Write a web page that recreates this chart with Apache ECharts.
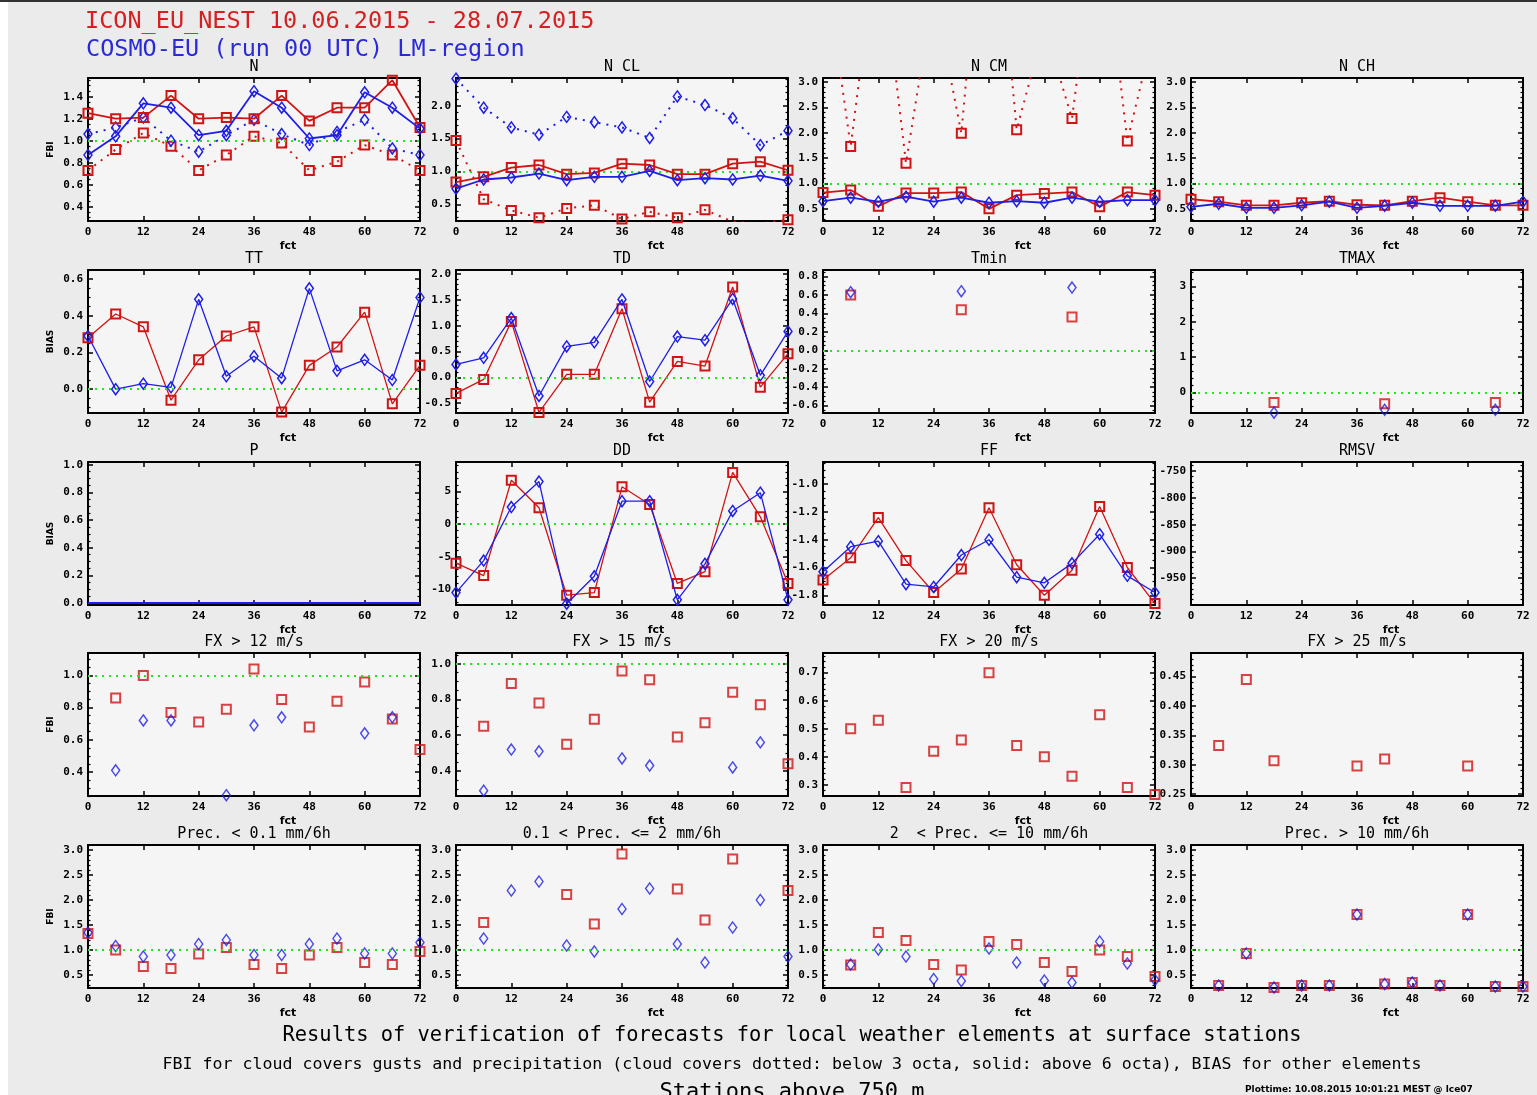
<!DOCTYPE html>
<html>
<head>
<meta charset="utf-8">
<title>Verification of local weather elements</title>
<script src="https://cdn.jsdelivr.net/npm/echarts@6/dist/echarts.min.js"></script>
<style>
  html, body { margin: 0; padding: 0; background: #ebebeb; }
  #chart { width: 1537px; height: 1095px; }
</style>
</head>
<body>
<div id="chart"></div>
<script>
// Forecast times (hours)
const fct = [0, 6, 12, 18, 24, 30, 36, 42, 48, 54, 60, 66, 72];

// Cloud cover FBI (red: ICON_EU_NEST, blue: COSMO-EU; solid above 6 octa, dotted below 3 octa)
const nIconSolid    = [1.25, 1.20, 1.21, 1.41, 1.20, 1.21, 1.20, 1.41, 1.18, 1.30, 1.30, 1.55, 1.12];
const nCosmoSolid   = [0.87, 1.04, 1.34, 1.30, 1.05, 1.09, 1.45, 1.30, 1.02, 1.05, 1.44, 1.30, 1.11];
const nIconDotted   = [0.73, 0.92, 1.07, 0.95, 0.73, 0.87, 1.04, 0.98, 0.73, 0.81, 0.96, 0.87, 0.73];
const nCosmoDotted  = [1.06, 1.12, 1.21, 1.00, 0.90, 1.05, 1.19, 1.06, 0.96, 1.08, 1.19, 0.93, 0.87];

const nclIconSolid   = [0.84, 0.92, 1.06, 1.10, 0.96, 0.98, 1.12, 1.10, 0.96, 0.96, 1.12, 1.15, 1.02];
const nclCosmoSolid  = [0.74, 0.88, 0.91, 0.97, 0.87, 0.92, 0.92, 1.01, 0.87, 0.90, 0.88, 0.94, 0.86];
const nclIconDotted  = [1.47, 0.58, 0.41, 0.30, 0.44, 0.49, 0.28, 0.39, 0.30, 0.42, 0.24, 0.21, 0.27];
const nclCosmoDotted = [2.41, 1.97, 1.67, 1.56, 1.83, 1.75, 1.67, 1.51, 2.14, 2.01, 1.81, 1.40, 1.62];

const ncmIconSolid   = [0.82, 0.87, 0.55, 0.81, 0.81, 0.83, 0.50, 0.77, 0.80, 0.83, 0.54, 0.83, 0.77];
const ncmCosmoSolid  = [0.65, 0.72, 0.64, 0.74, 0.64, 0.72, 0.62, 0.65, 0.62, 0.72, 0.64, 0.67, 0.67];
const ncmIconDotted  = [5.6, 1.73, 6.0, 1.40, 4.8, 1.99, 8.0, 2.06, 4.1, 2.28, 6.5, 1.84, 4.1];

const nchIconSolid   = [0.69, 0.64, 0.57, 0.57, 0.62, 0.65, 0.58, 0.57, 0.65, 0.72, 0.64, 0.57, 0.57];
const nchCosmoSolid  = [0.54, 0.60, 0.52, 0.52, 0.57, 0.64, 0.52, 0.56, 0.62, 0.56, 0.56, 0.56, 0.64];

// BIAS of temperatures, pressure and wind
const ttIcon    = [0.28, 0.41, 0.34, -0.06, 0.16, 0.29, 0.34, -0.125, 0.13, 0.23, 0.42, -0.08, 0.13];
const ttCosmo   = [0.29, 0.00, 0.03, 0.01, 0.49, 0.07, 0.18, 0.06, 0.55, 0.10, 0.16, 0.05, 0.50];
const tdIcon    = [-0.31, -0.04, 1.08, -0.68, 0.06, 0.06, 1.33, -0.48, 0.31, 0.22, 1.75, -0.19, 0.46];
const tdCosmo   = [0.25, 0.38, 1.15, -0.36, 0.60, 0.68, 1.51, -0.08, 0.79, 0.72, 1.52, 0.04, 0.89];
const tminIcon  = [null, 0.60, null, null, null, 0.44, null, null, null, 0.36, null, null, null];
const tminCosmo = [null, 0.63, null, null, null, 0.64, null, null, null, 0.68, null, null, null];
const tmaxIcon  = [null, null, null, -0.28, null, null, null, -0.32, null, null, null, -0.28, null];
const tmaxCosmo = [null, null, null, -0.57, null, null, null, -0.49, null, null, null, -0.49, null];
const pIcon     = [0, 0, 0, 0, 0, 0, 0, 0, 0, 0, 0, 0, 0];
const pCosmo    = [0, 0, 0, 0, 0, 0, 0, 0, 0, 0, 0, 0, 0];
const ddIcon    = [-6.0, -7.9, 6.7, 2.5, -10.9, -10.5, 5.7, 3.0, -9.1, -7.3, 7.9, 1.1, -9.1];
const ddCosmo   = [-10.5, -5.6, 2.6, 6.5, -12.2, -8.0, 3.5, 3.5, -11.6, -6.1, 2.0, 4.8, -11.6];
const ffIcon    = [-1.69, -1.53, -1.24, -1.55, -1.78, -1.61, -1.17, -1.58, -1.80, -1.62, -1.16, -1.60, -1.86];
const ffCosmo   = [-1.63, -1.45, -1.41, -1.72, -1.74, -1.51, -1.40, -1.67, -1.71, -1.57, -1.36, -1.66, -1.78];

// Gust FBI
const fx12Icon  = [null, 0.86, 1.00, 0.77, 0.71, 0.79, 1.04, 0.85, 0.68, 0.84, 0.96, 0.73, 0.54];
const fx12Cosmo = [null, 0.41, 0.72, 0.72, null, 0.255, 0.69, 0.74, null, null, 0.64, 0.74, null];
const fx15Icon  = [null, 0.65, 0.89, 0.78, 0.55, 0.69, 0.96, 0.91, 0.59, 0.67, 0.84, 0.77, 0.44];
const fx15Cosmo = [null, 0.29, 0.52, 0.51, null, null, 0.47, 0.43, null, null, 0.42, 0.56, null];
const fx20Icon  = [null, 0.50, 0.53, 0.29, 0.42, 0.46, 0.70, 0.44, 0.40, 0.33, 0.55, 0.29, 0.265];
const fx25Icon  = [null, 0.333, 0.445, 0.307, null, null, 0.298, 0.31, null, null, 0.298, null, null];

// Precipitation FBI
const pr01Icon   = [1.33, 1.00, 0.67, 0.63, 0.92, 1.05, 0.71, 0.63, 0.90, 1.05, 0.75, 0.71, 0.97];
const pr01Cosmo  = [1.35, 1.08, 0.87, 0.90, 1.12, 1.20, 0.90, 0.90, 1.12, 1.23, 0.93, 0.93, 1.15];
const pr2Icon    = [null, 1.55, null, null, 2.11, 1.52, 2.92, null, 2.22, 1.60, 2.82, null, 2.19];
const pr2Cosmo   = [null, 1.23, 2.19, 2.37, 1.09, 0.97, 1.82, 2.23, 1.12, 0.75, 1.45, 2.00, 0.87];
const pr10Icon   = [null, 0.70, 1.35, 1.19, 0.71, 0.60, 1.17, 1.11, 0.75, 0.57, 1.00, 0.87, 0.47];
const pr10Cosmo  = [null, 0.71, 1.01, 0.87, 0.42, 0.38, 1.03, 0.75, 0.39, 0.35, 1.17, 0.73, 0.40];
const prBigIcon  = [null, 0.29, 0.93, 0.25, 0.29, 0.29, 1.71, 0.32, 0.35, 0.29, 1.71, 0.27, 0.27];
const prBigCosmo = [null, 0.29, 0.93, 0.25, 0.29, 0.29, 1.71, 0.32, 0.35, 0.29, 1.71, 0.27, 0.27];

// Tick labels
const fctTicks   = [0, 12, 24, 36, 48, 60, 72];
const ticksN     = [0.4, 0.6, 0.8, 1.0, 1.2, 1.4];
const ticksNCL   = [0.5, 1.0, 1.5, 2.0];
const ticksCloud = [0.5, 1.0, 1.5, 2.0, 2.5, 3.0];
const ticksTT    = [0.0, 0.2, 0.4, 0.6];
const ticksTD    = [-0.5, 0.0, 0.5, 1.0, 1.5, 2.0];
const ticksTmin  = [-0.6, -0.4, -0.2, 0.0, 0.2, 0.4, 0.6, 0.8];
const ticksTmax  = [0, 1, 2, 3];
const ticksP     = [0.0, 0.2, 0.4, 0.6, 0.8, 1.0];
const ticksDD    = [-10, -5, 0, 5];
const ticksFF    = [-1.8, -1.6, -1.4, -1.2, -1.0];
const ticksRMSV  = [-950, -900, -850, -800, -750];
const ticksFX    = [0.4, 0.6, 0.8, 1.0];
const ticksFX20  = [0.3, 0.4, 0.5, 0.6, 0.7];
const ticksFX25  = [0.25, 0.30, 0.35, 0.40, 0.45];
const ticksPrec  = [0.5, 1.0, 1.5, 2.0, 2.5, 3.0];

const panelTitles = [
  'N', 'N CL', 'N CM', 'N CH',
  'TT', 'TD', 'Tmin', 'TMAX',
  'P', 'DD', 'FF', 'RMSV',
  'FX > 12 m/s', 'FX > 15 m/s', 'FX > 20 m/s', 'FX > 25 m/s',
  'Prec. < 0.1 mm/6h', '0.1 < Prec. <= 2 mm/6h', '2  < Prec. <= 10 mm/6h', 'Prec. > 10 mm/6h'
];
const rowYName = ['FBI', 'BIAS', 'BIAS', 'FBI', 'FBI'];

const headerLine1 = 'ICON_EU_NEST 10.06.2015 - 28.07.2015';
const headerLine2 = 'COSMO-EU (run 00 UTC) LM-region';
const footerLine1 = 'Results of verification of forecasts for local weather elements at surface stations';
const footerLine2 = 'FBI for cloud covers gusts and precipitation (cloud covers dotted: below 3 octa, solid: above 6 octa), BIAS for other elements';
const footerLine3 = 'Stations above 750 m';
const plotStamp   = 'Plottime: 10.08.2015 10:01:21 MEST @ lce07';

// Panel setup: axis extent, tick labels, reference line and the drawn series
const panels = [
  { range: [0.27, 1.57], ticks: ticksN, dec: 1, ref: 1,
    series: [[nIconDotted, 'iconDot'], [nCosmoDotted, 'cosmoDot'], [nIconSolid, 'iconLine'], [nCosmoSolid, 'cosmoLine']] },
  { range: [0.25, 2.42], ticks: ticksNCL, dec: 1, ref: 1,
    series: [[nclIconDotted, 'iconDot'], [nclCosmoDotted, 'cosmoDot'], [nclIconSolid, 'iconLine'], [nclCosmoSolid, 'cosmoLine']] },
  { range: [0.26, 3.08], ticks: ticksCloud, dec: 1, ref: 1,
    series: [[ncmIconDotted, 'iconDot'], [ncmIconSolid, 'iconLine'], [ncmCosmoSolid, 'cosmoLine']] },
  { range: [0.26, 3.08], ticks: ticksCloud, dec: 1, ref: 1,
    series: [[nchIconSolid, 'iconLine'], [nchCosmoSolid, 'cosmoLine']] },

  { range: [-0.13, 0.65], ticks: ticksTT, dec: 1, ref: 0,
    series: [[ttIcon, 'iconThin'], [ttCosmo, 'cosmoThin']] },
  { range: [-0.69, 2.08], ticks: ticksTD, dec: 1, ref: 0,
    series: [[tdIcon, 'iconThin'], [tdCosmo, 'cosmoThin']] },
  { range: [-0.68, 0.87], ticks: ticksTmin, dec: 1, ref: 0,
    series: [[tminIcon, 'iconPoint'], [tminCosmo, 'cosmoPoint']] },
  { range: [-0.58, 3.47], ticks: ticksTmax, dec: 0, ref: 0,
    series: [[tmaxIcon, 'iconPoint'], [tmaxCosmo, 'cosmoPoint']] },

  { range: [-0.015, 1.02], ticks: ticksP, dec: 1, ref: null, bg: '#ebebeb',
    series: [[pIcon, 'iconFlat'], [pCosmo, 'cosmoFlat']] },
  { range: [-12.4, 9.5], ticks: ticksDD, dec: 0, ref: 0,
    series: [[ddIcon, 'iconThin'], [ddCosmo, 'cosmoThin']] },
  { range: [-1.87, -0.84], ticks: ticksFF, dec: 1, ref: null,
    series: [[ffIcon, 'iconThin'], [ffCosmo, 'cosmoThin']] },
  { range: [-1000, -733], ticks: ticksRMSV, dec: 0, ref: null, series: [] },

  { range: [0.25, 1.14], ticks: ticksFX, dec: 1, ref: 1,
    series: [[fx12Icon, 'iconPoint'], [fx12Cosmo, 'cosmoPoint']] },
  { range: [0.26, 1.06], ticks: ticksFX, dec: 1, ref: 1,
    series: [[fx15Icon, 'iconPoint'], [fx15Cosmo, 'cosmoPoint']] },
  { range: [0.26, 0.77], ticks: ticksFX20, dec: 1, ref: null,
    series: [[fx20Icon, 'iconPoint']] },
  { range: [0.247, 0.49], ticks: ticksFX25, dec: 2, ref: null,
    series: [[fx25Icon, 'iconPoint']] },

  { range: [0.24, 3.1], ticks: ticksPrec, dec: 1, ref: 1,
    series: [[pr01Icon, 'iconPoint'], [pr01Cosmo, 'cosmoPoint']] },
  { range: [0.24, 3.1], ticks: ticksPrec, dec: 1, ref: 1,
    series: [[pr2Icon, 'iconPoint'], [pr2Cosmo, 'cosmoPoint']] },
  { range: [0.24, 3.1], ticks: ticksPrec, dec: 1, ref: 1,
    series: [[pr10Icon, 'iconPoint'], [pr10Cosmo, 'cosmoPoint']] },
  { range: [0.24, 3.1], ticks: ticksPrec, dec: 1, ref: 1,
    series: [[prBigIcon, 'iconPoint'], [prBigCosmo, 'cosmoPoint']] }
];

// ---- styling ----
const RED = '#d01414';
const BLUE = '#1e1ee6';
const GREEN = '#22e622';
const PLOT_BG = '#f5f5f5';
const LABEL_FONT = { color: '#000', fontFamily: '"DejaVu Sans Mono", monospace', fontWeight: 'bold', fontSize: 11 };

const colLeft = [88, 456, 823, 1191];
const rowTop = [78, 270, 462, 653, 845];
const plotW = 332;
const plotH = 143;

const squareSym = { symbol: 'rect', symbolSize: 9,
  itemStyle: { color: 'rgba(0,0,0,0)', borderColor: RED, borderWidth: 2 } };
const diamondSym = { symbol: 'diamond', symbolSize: [8, 11],
  itemStyle: { color: 'rgba(0,0,0,0)', borderColor: BLUE, borderWidth: 1.5 } };

const seriesStyles = {
  iconLine:  Object.assign({ type: 'line', lineStyle: { color: RED, width: 1.8 } }, squareSym),
  cosmoLine: Object.assign({ type: 'line', lineStyle: { color: BLUE, width: 1.8 } }, diamondSym),
  iconThin:  Object.assign({ type: 'line', lineStyle: { color: RED, width: 1.3 } }, squareSym),
  cosmoThin: Object.assign({ type: 'line', lineStyle: { color: BLUE, width: 1.3 } }, diamondSym),
  iconDot:   Object.assign({ type: 'line', lineStyle: { color: RED, width: 2, type: [2, 6] } }, squareSym),
  cosmoDot:  Object.assign({ type: 'line', lineStyle: { color: BLUE, width: 2, type: [2, 6] } }, diamondSym),
  iconPoint: Object.assign({ type: 'scatter' }, squareSym),
  cosmoPoint: Object.assign({ type: 'scatter' }, diamondSym),
  iconFlat:  { type: 'line', showSymbol: false, symbol: 'none', lineStyle: { color: RED, width: 2 } },
  cosmoFlat: { type: 'line', showSymbol: false, symbol: 'none', lineStyle: { color: BLUE, width: 2 } }
};

function minorValues(ticks, min, max) {
  const step = ticks[1] - ticks[0];
  const mag = Math.pow(10, Math.floor(Math.log10(step)));
  const div = Math.round(step / mag) === 2 ? 4 : 5;
  const m = step / div;
  const out = [];
  const kStart = Math.ceil((min - ticks[0]) / m - 1e-9);
  const kEnd = Math.floor((max - ticks[0]) / m + 1e-9);
  for (let k = kStart; k <= kEnd; k++) {
    if (((k % div) + div) % div !== 0) out.push(+(ticks[0] + k * m).toFixed(6));
  }
  return out;
}

function xAxisDef(gi, pos) {
  const bottom = pos === 'bottom';
  return {
    gridIndex: gi, type: 'value', position: pos, min: 0, max: 72, interval: 12,
    axisLine: { show: true, onZero: false, lineStyle: { color: '#000', width: 2 } },
    axisTick: { show: true, inside: true, length: 5, lineStyle: { color: '#000', width: 1.5 } },
    axisLabel: Object.assign({ show: bottom, margin: 6, showMinLabel: true, showMaxLabel: true, hideOverlap: false }, LABEL_FONT),
    splitLine: { show: false },
    name: bottom ? 'fct' : '', nameLocation: 'middle', nameGap: 20,
    nameTextStyle: { color: '#000', fontFamily: '"DejaVu Sans", sans-serif', fontWeight: 'bold', fontSize: 11, padding: [0, 0, 0, 68] }
  };
}

function yMajor(gi, p, pos, yName) {
  const dec = p.dec;
  return {
    gridIndex: gi, type: 'value', position: pos, min: p.range[0], max: p.range[1],
    axisLine: { show: true, onZero: false, lineStyle: { color: '#000', width: 2 } },
    axisTick: { show: true, inside: true, length: 5, customValues: p.ticks, lineStyle: { color: '#000', width: 1.5 } },
    axisLabel: Object.assign({ show: pos === 'left', margin: 5, customValues: p.ticks, hideOverlap: false,
      formatter: v => Number(v).toFixed(dec) }, LABEL_FONT),
    splitLine: { show: false },
    name: yName || '', nameLocation: 'middle', nameGap: 33, nameRotate: 90,
    nameTextStyle: { color: '#000', fontFamily: '"DejaVu Sans", sans-serif', fontWeight: 'bold', fontSize: 9 }
  };
}

function yMinor(gi, p, pos, minors) {
  return {
    gridIndex: gi, type: 'value', position: pos, min: p.range[0], max: p.range[1],
    axisLine: { show: false, onZero: false },
    axisTick: { show: true, inside: true, length: 2.5, customValues: minors, lineStyle: { color: '#000', width: 1.2 } },
    axisLabel: { show: false },
    splitLine: { show: false }
  };
}

const option = {
  backgroundColor: '#ebebeb',
  animation: false,
  grid: [], xAxis: [], yAxis: [], series: [], graphic: []
};

panels.forEach((p, i) => {
  const r = Math.floor(i / 4), c = i % 4;
  const left = colLeft[c], top = rowTop[r];
  option.grid.push({ left, top, width: plotW, height: plotH, show: true,
    backgroundColor: p.bg || PLOT_BG, borderWidth: 0, containLabel: false, outerBoundsMode: 'none' });

  const xi = option.xAxis.length;
  option.xAxis.push(xAxisDef(i, 'bottom'), xAxisDef(i, 'top'));

  const yi = option.yAxis.length;
  const minors = minorValues(p.ticks, p.range[0], p.range[1]);
  option.yAxis.push(
    yMajor(i, p, 'left', c === 0 ? rowYName[r] : ''),
    yMinor(i, p, 'left', minors),
    yMajor(i, p, 'right', ''),
    yMinor(i, p, 'right', minors)
  );

  p.series.forEach(([vals, styleKey], k) => {
    const st = seriesStyles[styleKey];
    let data = fct.map((f, j) => [f, vals[j]]);
    if (st.type === 'scatter') data = data.filter(d => d[1] !== null);
    else data = data.map(d => [d[0], d[1] === null ? '-' : d[1]]);
    const s = Object.assign({}, st, {
      xAxisIndex: xi, yAxisIndex: yi, data, clip: true, silent: true, z: 3 + k,
      emphasis: { disabled: true }
    });
    if (k === 0 && p.ref !== null) {
      s.markLine = {
        silent: true, symbol: 'none', label: { show: false }, animation: false,
        lineStyle: { color: GREEN, width: 2, type: [2, 5] },
        emphasis: { disabled: true },
        data: [{ yAxis: p.ref }]
      };
    }
    option.series.push(s);
  });

  option.graphic.push({
    type: 'text', x: left + plotW / 2, y: top - 11, silent: true,
    style: { text: panelTitles[i], fill: '#000', font: '15px "DejaVu Sans Mono", monospace',
      textAlign: 'center', textVerticalAlign: 'middle', align: 'center', verticalAlign: 'middle' }
  });
});

// frame strips, header and footer
option.graphic.push(
  { type: 'rect', shape: { x: 0, y: 0, width: 8, height: 1095 }, style: { fill: '#ffffff' }, silent: true },
  { type: 'rect', shape: { x: 0, y: 0, width: 1537, height: 2 }, style: { fill: '#333333' }, silent: true },
  { type: 'text', x: 85, y: 22, silent: true,
    style: { text: headerLine1, fill: '#d42020', font: '23.5px "DejaVu Sans Mono", monospace',
      textAlign: 'left', textVerticalAlign: 'middle', align: 'left', verticalAlign: 'middle' } },
  { type: 'text', x: 86, y: 50, silent: true,
    style: { text: headerLine2, fill: '#2a2ad8', font: '23.5px "DejaVu Sans Mono", monospace',
      textAlign: 'left', textVerticalAlign: 'middle', align: 'left', verticalAlign: 'middle' } },
  { type: 'text', x: 792, y: 1036, silent: true,
    style: { text: footerLine1, fill: '#000', font: '20.4px "DejaVu Sans Mono", monospace',
      textAlign: 'center', textVerticalAlign: 'middle', align: 'center', verticalAlign: 'middle' } },
  { type: 'text', x: 792, y: 1065, silent: true,
    style: { text: footerLine2, fill: '#000', font: '16.6px "DejaVu Sans Mono", monospace',
      textAlign: 'center', textVerticalAlign: 'middle', align: 'center', verticalAlign: 'middle' } },
  { type: 'text', x: 792, y: 1092, silent: true,
    style: { text: footerLine3, fill: '#000', font: '22px "DejaVu Sans Mono", monospace',
      textAlign: 'center', textVerticalAlign: 'middle', align: 'center', verticalAlign: 'middle' } },
  { type: 'text', x: 1245, y: 1090, silent: true,
    style: { text: plotStamp, fill: '#000', font: 'bold 9px "DejaVu Sans", sans-serif',
      textAlign: 'left', textVerticalAlign: 'middle', align: 'left', verticalAlign: 'middle' } }
);

const chart = echarts.init(document.getElementById('chart'), null, { renderer: 'canvas' });
chart.setOption(option);
</script>
</body>
</html>
